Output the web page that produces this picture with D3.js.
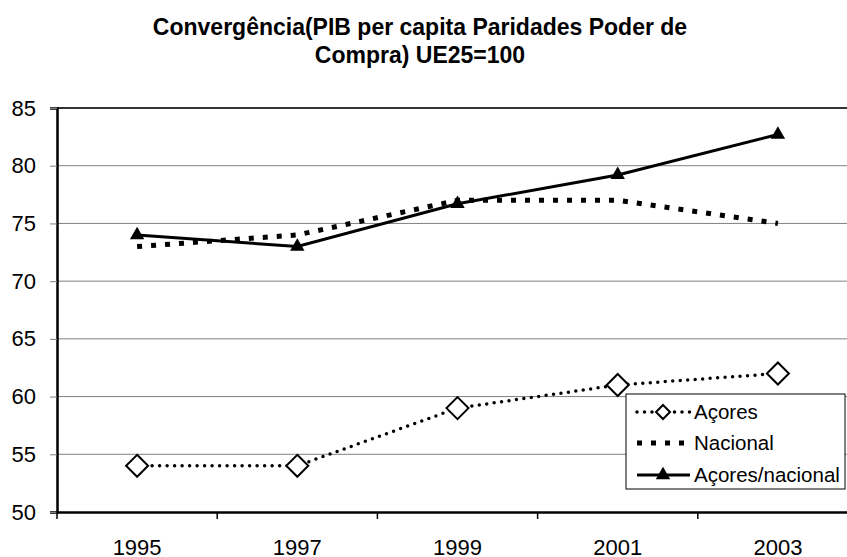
<!DOCTYPE html>
<html>
<head>
<meta charset="utf-8">
<style>
 body { margin: 0; background: #fff; }
 svg { font-family: Arial, "Liberation Sans", sans-serif; background: #fff; }
 .grid line { stroke: #808080; stroke-width: 1px; }
</style>
</head>
<body>
<svg width="847" height="557"></svg>
<script src="https://d3js.org/d3.v7.min.js"></script>
<script>

// data
var years = ["1995", "1997", "1999", "2001", "2003"];
var acores = [54, 54, 59, 61, 62];
var nacional = [73, 74, 77, 77, 75];
var acoresNacional = [74, 73, 76.7, 79.2, 82.7];
var yTicks = [50, 55, 60, 65, 70, 75, 80, 85];
var titleLines = ["Convergência(PIB per capita Paridades Poder de", "Compra) UE25=100"];
var legendNames = ["Açores", "Nacional", "Açores/nacional"];

var svg = d3.select("svg");
var plotLeft = 57, plotRight = 858, plotTop = 108, plotBottom = 512;

var x = d3.scaleBand().domain(years).range([plotLeft, plotRight]).padding(0);
var y = d3.scaleLinear().domain([50, 85]).range([plotBottom, plotTop]);

// title
svg.append("g").selectAll("text")
    .data(titleLines)
    .enter().append("text")
    .attr("x", 420)
    .attr("y", function(d, i){ return 35 + i * 28; })
    .attr("text-anchor", "middle")
    .style("font-size", "23px")
    .style("font-weight", "bold")
    .text(function(d){ return d; });

// grid
svg.append("g").attr("class", "grid")
    .selectAll("line")
    .data(yTicks.filter(function(d){ return d > 50 && d < 85; }))
    .enter().append("line")
    .attr("x1", plotLeft).attr("x2", plotRight)
    .attr("y1", function(d){ return y(d); })
    .attr("y2", function(d){ return y(d); });

// top border of plot area
svg.append("line")
    .attr("x1", plotLeft).attr("x2", plotRight)
    .attr("y1", plotTop).attr("y2", plotTop)
    .style("stroke", "#333").style("stroke-width", 2);

// y axis
var yAxisG = svg.append("g")
    .attr("transform", "translate(" + plotLeft + ",0)")
    .call(d3.axisLeft(y).tickValues(yTicks).tickSize(7).tickPadding(14).tickFormat(d3.format("d")));
yAxisG.select(".domain").style("stroke", "#000").style("stroke-width", 2.5);
yAxisG.selectAll(".tick line").style("stroke", "#808080");
yAxisG.selectAll("text").style("font-size", "22px").style("font-family", "Arial, 'Liberation Sans', sans-serif").attr("fill", "#000");

// x axis (ticks between categories)
var xAxisG = svg.append("g")
    .attr("transform", "translate(0," + plotBottom + ")")
    .call(d3.axisBottom(x).tickSize(0).tickPadding(27));
xAxisG.select(".domain").style("stroke", "#000").style("stroke-width", 2.5);
xAxisG.selectAll("text").style("font-size", "22px").style("font-family", "Arial, 'Liberation Sans', sans-serif").attr("fill", "#000");
xAxisG.selectAll(".sep")
    .data(years)
    .enter().append("line")
    .attr("class", "sep")
    .attr("x1", function(d){ return x(d); })
    .attr("x2", function(d){ return x(d); })
    .attr("y1", 0).attr("y2", 7)
    .style("stroke", "#000").style("stroke-width", 1.5);

var cx = function(d, i){ return x(years[i]) + x.bandwidth() / 2; };
var line = d3.line().x(cx).y(function(d){ return y(d); });

// Nacional - square dots
svg.append("path")
    .datum(nacional)
    .attr("d", line)
    .style("fill", "none").style("stroke", "#000")
    .style("stroke-width", 5).style("stroke-dasharray", "5,9");

// Açores/nacional - solid with triangles
svg.append("path")
    .datum(acoresNacional)
    .attr("d", line)
    .style("fill", "none").style("stroke", "#000").style("stroke-width", 3);

var tri = d3.symbol().type(d3.symbolTriangle).size(90);
svg.selectAll(".tri")
    .data(acoresNacional)
    .enter().append("path")
    .attr("class", "tri")
    .attr("d", tri)
    .attr("transform", function(d, i){ return "translate(" + cx(d, i) + "," + y(d) + ")"; })
    .style("fill", "#000");

// Açores - round dots with diamonds
svg.append("path")
    .datum(acores)
    .attr("d", line)
    .style("fill", "none").style("stroke", "#000")
    .style("stroke-width", 3.5).style("stroke-linecap", "round")
    .style("stroke-dasharray", "0,7.5");

svg.selectAll(".dia")
    .data(acores)
    .enter().append("path")
    .attr("class", "dia")
    .attr("d", "M0,-11L11,0L0,11L-11,0Z")
    .attr("transform", function(d, i){ return "translate(" + cx(d, i) + "," + y(d) + ")"; })
    .style("fill", "#fff").style("stroke", "#000").style("stroke-width", 2);

// legend
var lg = svg.append("g");
lg.append("rect")
    .attr("x", 626).attr("y", 394).attr("width", 219).attr("height", 95)
    .style("fill", "#fff").style("stroke", "#000").style("stroke-width", 1);

var rows = [412, 443, 475];
var styles = [
    {w: 3.5, dash: "0,7.5", cap: "round"},
    {w: 5, dash: "5,9", cap: "butt"},
    {w: 3, dash: null, cap: "butt"}
];
legendNames.forEach(function(name, i){
    var ly = rows[i];
    lg.append("line")
        .attr("x1", 637).attr("x2", 690)
        .attr("y1", ly).attr("y2", ly)
        .style("stroke", "#000").style("stroke-width", styles[i].w)
        .style("stroke-linecap", styles[i].cap)
        .style("stroke-dasharray", styles[i].dash);
    lg.append("text")
        .attr("x", 694).attr("y", ly + 7)
        .style("font-size", "20.5px")
        .text(name);
});
lg.append("path")
    .attr("d", "M0,-7L7,0L0,7L-7,0Z")
    .attr("transform", "translate(663," + rows[0] + ")")
    .style("fill", "#fff").style("stroke", "#000").style("stroke-width", 2);
lg.append("path")
    .attr("d", tri)
    .attr("transform", "translate(663," + rows[2] + ")")
    .style("fill", "#000");

</script>
</body>
</html>
